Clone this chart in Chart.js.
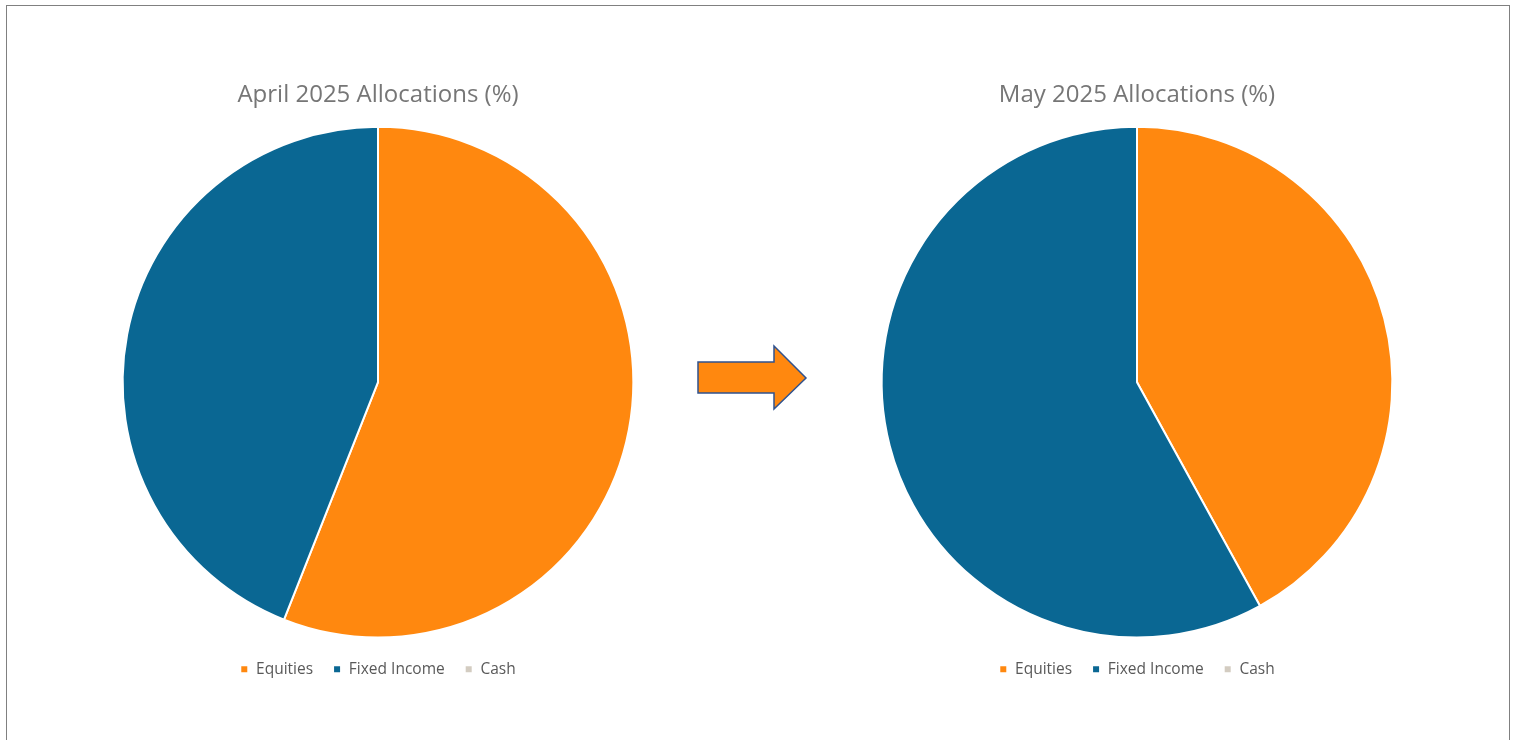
<!DOCTYPE html>
<html>
<head>
<meta charset="utf-8">
<script src="https://cdn.jsdelivr.net/npm/chart.js@4"></script>
<style>
  html, body { margin: 0; padding: 0; background: #fff; }
  body { width: 1517px; height: 740px; position: relative; overflow: hidden; }
  .frame { position: absolute; left: 6px; top: 5px; width: 1504px; height: 760px; border: 1px solid #808080; box-sizing: border-box; }
  .box { position: absolute; top: 60px; width: 716px; height: 627px; }
  #boxApr { left: 20px; }
  #boxMay { left: 779px; }
  #arrow { position: absolute; left: 696px; top: 344px; }
</style>
</head>
<body>
<div class="frame"></div>
<div class="box" id="boxApr"><canvas id="aprChart"></canvas></div>
<div class="box" id="boxMay"><canvas id="mayChart"></canvas></div>
<svg id="arrow" width="114" height="68">
  <polygon points="2,18 78,18 78,2 110,34 78,65 78,49 2,49" fill="#FF880F" stroke="#2F528F" stroke-width="1.5"/>
</svg>
<script>
document.addEventListener('DOMContentLoaded', function () {
    const categories = ['Equities', 'Fixed Income', 'Cash'];
    const aprilValues = [56, 44, 0];
    const mayValues = [42, 58, 0];
    const colors = ['#FF880F', '#0A6793', '#D3CCC1'];

    function makePie(canvasId, title, values) {
        const ctx = document.getElementById(canvasId).getContext('2d');
        return new Chart(ctx, {
            type: 'pie',
            data: {
                labels: categories,
                datasets: [{
                    data: values,
                    backgroundColor: colors,
                    borderColor: '#ffffff',
                    borderWidth: 2
                }]
            },
            options: {
                responsive: true,
                maintainAspectRatio: false,
                animation: false,
                layout: { padding: 0 },
                plugins: {
                    title: {
                        display: true,
                        text: title,
                        color: '#767676',
                        font: { family: 'Open Sans', size: 24, weight: 'normal' },
                        padding: { top: 21, bottom: 16 }
                    },
                    legend: {
                        position: 'bottom',
                        // empty legend title only adds a little space above the items
                        title: { display: true, text: '', font: { size: 1, lineHeight: 1 }, padding: { top: 1, bottom: 1 } },
                        labels: {
                            color: '#595959',
                            font: { family: 'Open Sans', size: 15.5 },
                            usePointStyle: true,
                            pointStyle: 'rect',
                            boxWidth: 8,
                            boxHeight: 8,
                            padding: 20
                        }
                    },
                    tooltip: { enabled: false }
                }
            }
        });
    }

    makePie('aprChart', 'April 2025 Allocations (%)', aprilValues);
    makePie('mayChart', 'May 2025 Allocations (%)', mayValues);
});
</script>
</body>
</html>
